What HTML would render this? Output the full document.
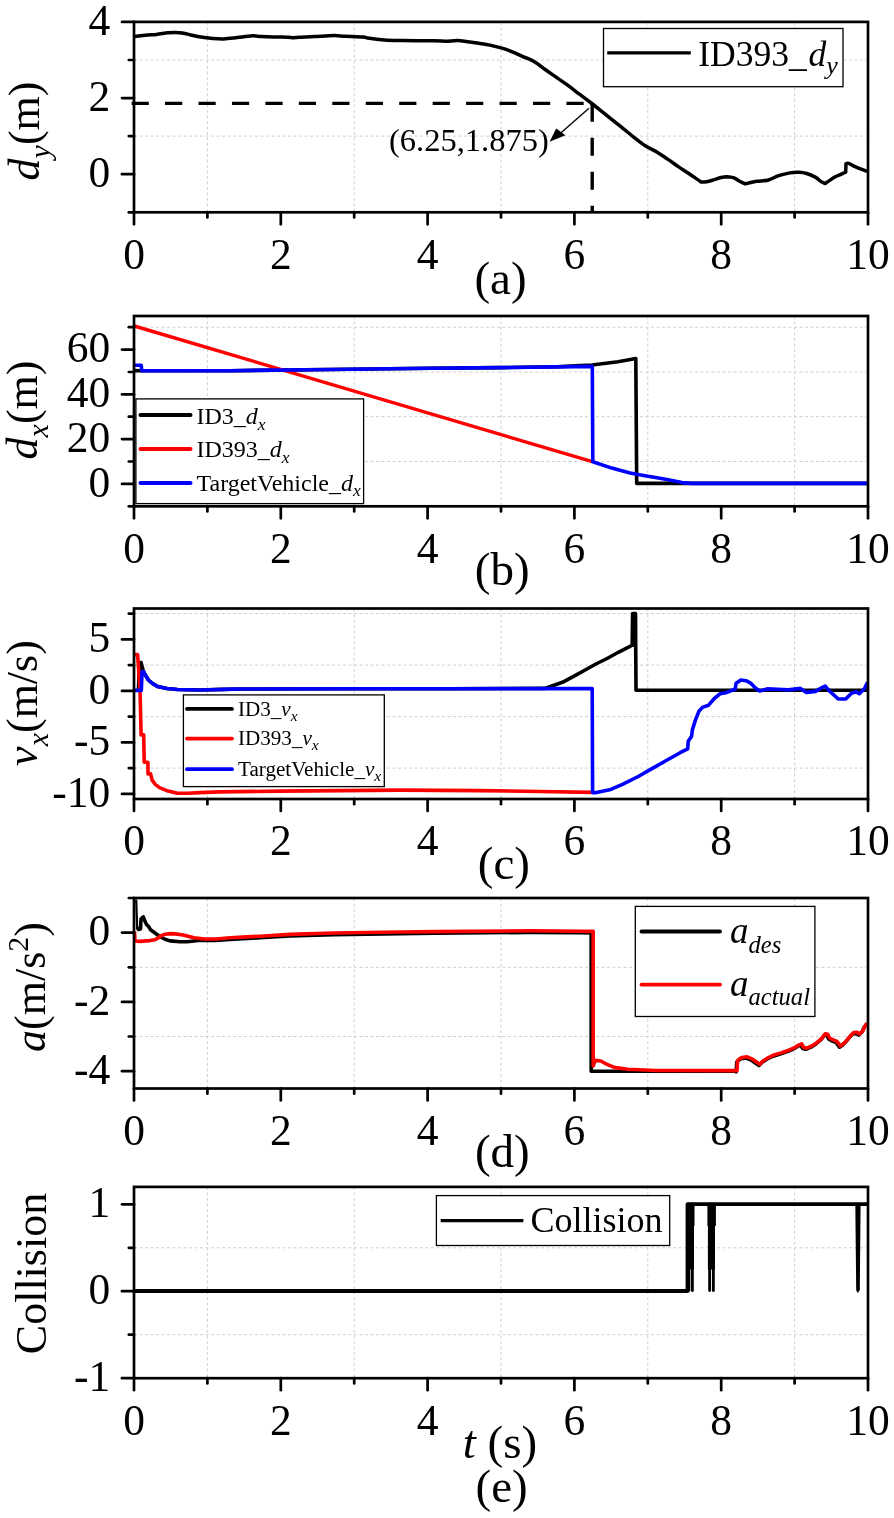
<!DOCTYPE html><html><head><meta charset="utf-8"><title>Figure</title><style>html,body{margin:0;padding:0;background:#fff;}svg{display:block;}text{font-family:'Liberation Serif','Times New Roman',serif;fill:#000;}</style></head><body>
<svg width="894" height="1518" viewBox="0 0 894 1518">
<rect width="894" height="1518" fill="#fff"/>
<line x1="207.4" y1="21.9" x2="207.4" y2="212.3" stroke="#d0d0d0" stroke-width="1" stroke-dasharray="3 2.5"/>
<line x1="354.2" y1="21.9" x2="354.2" y2="212.3" stroke="#d0d0d0" stroke-width="1" stroke-dasharray="3 2.5"/>
<line x1="501" y1="21.9" x2="501" y2="212.3" stroke="#d0d0d0" stroke-width="1" stroke-dasharray="3 2.5"/>
<line x1="647.8" y1="21.9" x2="647.8" y2="212.3" stroke="#d0d0d0" stroke-width="1" stroke-dasharray="3 2.5"/>
<line x1="794.6" y1="21.9" x2="794.6" y2="212.3" stroke="#d0d0d0" stroke-width="1" stroke-dasharray="3 2.5"/>
<line x1="134" y1="60" x2="868" y2="60" stroke="#d0d0d0" stroke-width="1" stroke-dasharray="3 2.5"/>
<line x1="134" y1="136.1" x2="868" y2="136.1" stroke="#d0d0d0" stroke-width="1" stroke-dasharray="3 2.5"/>
<line x1="131.6" y1="103.4" x2="592.4" y2="103.4" stroke="#000" stroke-width="3.4" stroke-dasharray="17.2 16.25"/>
<line x1="592.2" y1="103.8" x2="592.2" y2="212" stroke="#000" stroke-width="3.4" stroke-dasharray="18 16"/>
<path d="M134.5 36.6 C134.5 36.6 141.5 35.7 145.2 35.3 C148.8 34.9 153.6 34.7 156.4 34.4 C159.2 34.1 160.1 33.9 162 33.6 C163.9 33.3 165.4 32.9 167.6 32.7 C169.8 32.5 173 32.4 175.4 32.4 C177.8 32.4 179.7 32.5 182.1 32.9 C184.5 33.3 187.5 34.1 189.9 34.7 C192.3 35.3 194.2 35.8 196.6 36.3 C199 36.8 201.9 37.2 204.5 37.6 C207.1 38 209.1 38.3 212.3 38.5 C215.5 38.7 219.9 39 223.5 38.9 C227.1 38.8 230.4 38.4 234 38 C237.6 37.6 242 37 245.2 36.6 C248.4 36.2 250.2 35.8 253 35.8 C255.8 35.8 258.3 36.4 262 36.6 C265.7 36.8 270.7 36.9 275 37 C279.3 37.1 284.6 37.1 287.7 37.2 C290.8 37.3 291.4 37.7 293.3 37.7 C295.2 37.7 295.4 37.4 298.9 37.2 C302.4 37 308.6 36.9 314.5 36.6 C320.4 36.3 328.9 35.7 334 35.6 C339.1 35.5 340.3 36.1 345.2 36.3 C350.1 36.5 359.4 36.7 363.1 37 C366.8 37.3 364.1 37.6 367.6 38.1 C371.1 38.6 378.7 39.6 384.3 40 C389.9 40.4 392.8 40.4 401.1 40.5 C409.4 40.6 426.6 40.7 434 40.8 C441.4 40.9 441.3 41.2 445.2 41.2 C449.1 41.2 453.8 40.5 457.5 40.6 C461.2 40.7 464.1 41.3 467.6 41.7 C471.1 42.1 475 42.6 478.7 43.2 C482.4 43.8 486.2 44.3 489.9 45.1 C493.6 45.9 497.4 46.8 501.1 47.9 C504.8 49 508.6 50.3 512.3 51.8 C516 53.3 519.9 55.2 523.5 56.8 C527.1 58.4 530.4 59.4 534 61.5 C537.6 63.6 541.5 66.8 545.2 69.5 C548.9 72.2 552.7 74.8 556.4 77.4 C560.1 80 563.9 82.5 567.6 85.2 C571.3 87.9 575 90.8 578.7 93.6 C582.4 96.4 586.2 99.1 589.9 102 C593.6 104.9 597.4 107.9 601.1 110.9 C604.8 113.9 608.6 116.9 612.3 119.9 C616 122.9 619.9 125.9 623.5 128.8 C627.1 131.7 630.4 134.5 634 137.3 C637.6 140.1 641.5 143.3 645.2 145.7 C648.9 148.1 652.7 149.6 656.4 151.8 C660.1 154 663.9 156.6 667.6 159.1 C671.3 161.6 675 164.4 678.7 166.9 C682.4 169.4 687.1 172.3 689.9 174.2 C692.7 176.1 693.6 176.8 695.5 178.1 C697.4 179.4 701.1 182 701.1 182 C701.1 182 704.8 182 706.7 181.7 C708.6 181.4 709.9 181 712.3 180.3 C714.7 179.6 718.8 178.1 721.2 177.5 C723.6 176.9 724.7 176.8 726.8 176.8 C728.9 176.9 731.9 177.1 734 177.8 C736.1 178.6 737.7 180.3 739.6 181.3 C741.5 182.3 745.2 183.9 745.2 183.9 C745.2 183.9 752.7 181.9 756.4 181.3 C760.1 180.7 763.9 181.1 767.6 180.2 C771.3 179.3 775 176.9 778.7 175.7 C782.4 174.5 786.5 173.5 789.9 172.9 C793.3 172.3 796.1 172.2 798.9 172.3 C801.7 172.4 803.9 172.7 806.7 173.5 C809.5 174.3 813.3 176.1 815.7 177.4 C818.1 178.7 819.4 180.5 821 181.5 C822.6 182.5 825.2 183.6 825.2 183.6 C825.2 183.6 827.7 181.7 829.4 180.6 C831.1 179.5 833.1 177.9 835.2 176.8 C837.3 175.7 840.1 174.7 841.9 173.9 C843.6 173.1 845.7 172.2 845.7 172.2 C845.7 172.2 846 163.8 846 163.8 C846 163.8 847.3 163 848.7 163.4 C850.1 163.8 852.5 165.5 854.5 166.4 C856.5 167.3 858.3 168.1 860.4 168.9 C862.5 169.7 867.1 171.4 867.1 171.4" fill="none" stroke="#000" stroke-width="3.5" stroke-linejoin="round" stroke-linecap="butt"/>
<line x1="589" y1="108.3" x2="559" y2="134.5" stroke="#000" stroke-width="1.4"/>
<polygon points="549.6,141.8 556.2,128.6 565.4,135.2" fill="#000"/>
<text x="389" y="151.1" font-size="32.5">(6.25,1.875)</text>
<rect x="134" y="21.9" width="734" height="190.4" fill="none" stroke="#000" stroke-width="2.7"/>
<line x1="134" y1="212.3" x2="134" y2="224.3" stroke="#000" stroke-width="2.7" stroke-linecap="round"/>
<line x1="207.4" y1="212.3" x2="207.4" y2="217.5" stroke="#000" stroke-width="2.7" stroke-linecap="round"/>
<line x1="280.8" y1="212.3" x2="280.8" y2="224.3" stroke="#000" stroke-width="2.7" stroke-linecap="round"/>
<line x1="354.2" y1="212.3" x2="354.2" y2="217.5" stroke="#000" stroke-width="2.7" stroke-linecap="round"/>
<line x1="427.6" y1="212.3" x2="427.6" y2="224.3" stroke="#000" stroke-width="2.7" stroke-linecap="round"/>
<line x1="501" y1="212.3" x2="501" y2="217.5" stroke="#000" stroke-width="2.7" stroke-linecap="round"/>
<line x1="574.4" y1="212.3" x2="574.4" y2="224.3" stroke="#000" stroke-width="2.7" stroke-linecap="round"/>
<line x1="647.8" y1="212.3" x2="647.8" y2="217.5" stroke="#000" stroke-width="2.7" stroke-linecap="round"/>
<line x1="721.2" y1="212.3" x2="721.2" y2="224.3" stroke="#000" stroke-width="2.7" stroke-linecap="round"/>
<line x1="794.6" y1="212.3" x2="794.6" y2="217.5" stroke="#000" stroke-width="2.7" stroke-linecap="round"/>
<line x1="868" y1="212.3" x2="868" y2="224.3" stroke="#000" stroke-width="2.7" stroke-linecap="round"/>
<line x1="122" y1="21.9" x2="134" y2="21.9" stroke="#000" stroke-width="2.7" stroke-linecap="round"/>
<line x1="122" y1="98.1" x2="134" y2="98.1" stroke="#000" stroke-width="2.7" stroke-linecap="round"/>
<line x1="122" y1="174.2" x2="134" y2="174.2" stroke="#000" stroke-width="2.7" stroke-linecap="round"/>
<line x1="128.8" y1="60" x2="134" y2="60" stroke="#000" stroke-width="2.7" stroke-linecap="round"/>
<line x1="128.8" y1="136.1" x2="134" y2="136.1" stroke="#000" stroke-width="2.7" stroke-linecap="round"/>
<line x1="128.8" y1="212.3" x2="134" y2="212.3" stroke="#000" stroke-width="2.7" stroke-linecap="round"/>
<text x="134" y="269.2" text-anchor="middle" font-size="43.5">0</text>
<text x="280.8" y="269.2" text-anchor="middle" font-size="43.5">2</text>
<text x="427.6" y="269.2" text-anchor="middle" font-size="43.5">4</text>
<text x="574.4" y="269.2" text-anchor="middle" font-size="43.5">6</text>
<text x="721.2" y="269.2" text-anchor="middle" font-size="43.5">8</text>
<text x="868" y="269.2" text-anchor="middle" font-size="43.5">10</text>
<text x="110.3" y="34.7" text-anchor="end" font-size="43.5">4</text>
<text x="110.3" y="110.9" text-anchor="end" font-size="43.5">2</text>
<text x="110.3" y="187" text-anchor="end" font-size="43.5">0</text>
<rect x="603.5" y="28.5" width="239.5" height="58.2" fill="#fff" stroke="#000" stroke-width="1.3"/>
<line x1="607.2" y1="52.9" x2="690.8" y2="52.9" stroke="#000" stroke-width="3.2"/>
<text x="698.3" y="66" font-size="35.5">ID393_<tspan font-style="italic" dx="1.8">d</tspan><tspan font-style="italic" font-size="26" dy="8">y</tspan></text>
<text x="500.5" y="293.6" text-anchor="middle" font-size="47">(a)</text>
<line x1="207.4" y1="316" x2="207.4" y2="506.3" stroke="#d0d0d0" stroke-width="1" stroke-dasharray="3 2.5"/>
<line x1="354.2" y1="316" x2="354.2" y2="506.3" stroke="#d0d0d0" stroke-width="1" stroke-dasharray="3 2.5"/>
<line x1="501" y1="316" x2="501" y2="506.3" stroke="#d0d0d0" stroke-width="1" stroke-dasharray="3 2.5"/>
<line x1="647.8" y1="316" x2="647.8" y2="506.3" stroke="#d0d0d0" stroke-width="1" stroke-dasharray="3 2.5"/>
<line x1="794.6" y1="316" x2="794.6" y2="506.3" stroke="#d0d0d0" stroke-width="1" stroke-dasharray="3 2.5"/>
<line x1="134" y1="327.2" x2="868" y2="327.2" stroke="#d0d0d0" stroke-width="1" stroke-dasharray="3 2.5"/>
<line x1="134" y1="372" x2="868" y2="372" stroke="#d0d0d0" stroke-width="1" stroke-dasharray="3 2.5"/>
<line x1="134" y1="416.7" x2="868" y2="416.7" stroke="#d0d0d0" stroke-width="1" stroke-dasharray="3 2.5"/>
<line x1="134" y1="461.5" x2="868" y2="461.5" stroke="#d0d0d0" stroke-width="1" stroke-dasharray="3 2.5"/>
<path d="M134.2 370.6 L141.7 370.7 L230 370.7 L330 369.5 L430 368.3 L500 367.6 L557 366.8 L575 365.9 L592 365 L618 361.7 L634.6 358.8 L635.8 358.6 L636.7 483.4 L868 483.4" fill="none" stroke="#000" stroke-width="3.6" stroke-linejoin="round" stroke-linecap="butt"/>
<path d="M134.2 326 L592.4 461.7" fill="none" stroke="#f00" stroke-width="3.4" stroke-linejoin="round" stroke-linecap="butt"/>
<path d="M134.2 365.3 L141.2 365.3 L141.8 370.7 L230 370.7 L330 369.5 L430 368.3 L500 367.6 L557 366.9 L592.3 366.4 L592.8 461.8 L611.8 468.1 L630 473.1 L645 475.8 L660 478.2 L672 480.6 L682 482.6 L692 483.4 L868 483.4" fill="none" stroke="#00f" stroke-width="3.6" stroke-linejoin="round" stroke-linecap="butt"/>
<rect x="134" y="316" width="734" height="190.3" fill="none" stroke="#000" stroke-width="2.7"/>
<line x1="134" y1="506.3" x2="134" y2="518.3" stroke="#000" stroke-width="2.7" stroke-linecap="round"/>
<line x1="207.4" y1="506.3" x2="207.4" y2="511.5" stroke="#000" stroke-width="2.7" stroke-linecap="round"/>
<line x1="280.8" y1="506.3" x2="280.8" y2="518.3" stroke="#000" stroke-width="2.7" stroke-linecap="round"/>
<line x1="354.2" y1="506.3" x2="354.2" y2="511.5" stroke="#000" stroke-width="2.7" stroke-linecap="round"/>
<line x1="427.6" y1="506.3" x2="427.6" y2="518.3" stroke="#000" stroke-width="2.7" stroke-linecap="round"/>
<line x1="501" y1="506.3" x2="501" y2="511.5" stroke="#000" stroke-width="2.7" stroke-linecap="round"/>
<line x1="574.4" y1="506.3" x2="574.4" y2="518.3" stroke="#000" stroke-width="2.7" stroke-linecap="round"/>
<line x1="647.8" y1="506.3" x2="647.8" y2="511.5" stroke="#000" stroke-width="2.7" stroke-linecap="round"/>
<line x1="721.2" y1="506.3" x2="721.2" y2="518.3" stroke="#000" stroke-width="2.7" stroke-linecap="round"/>
<line x1="794.6" y1="506.3" x2="794.6" y2="511.5" stroke="#000" stroke-width="2.7" stroke-linecap="round"/>
<line x1="868" y1="506.3" x2="868" y2="518.3" stroke="#000" stroke-width="2.7" stroke-linecap="round"/>
<line x1="122" y1="349.6" x2="134" y2="349.6" stroke="#000" stroke-width="2.7" stroke-linecap="round"/>
<line x1="122" y1="394.4" x2="134" y2="394.4" stroke="#000" stroke-width="2.7" stroke-linecap="round"/>
<line x1="122" y1="439.1" x2="134" y2="439.1" stroke="#000" stroke-width="2.7" stroke-linecap="round"/>
<line x1="122" y1="483.9" x2="134" y2="483.9" stroke="#000" stroke-width="2.7" stroke-linecap="round"/>
<line x1="128.8" y1="327.2" x2="134" y2="327.2" stroke="#000" stroke-width="2.7" stroke-linecap="round"/>
<line x1="128.8" y1="372" x2="134" y2="372" stroke="#000" stroke-width="2.7" stroke-linecap="round"/>
<line x1="128.8" y1="416.7" x2="134" y2="416.7" stroke="#000" stroke-width="2.7" stroke-linecap="round"/>
<line x1="128.8" y1="461.5" x2="134" y2="461.5" stroke="#000" stroke-width="2.7" stroke-linecap="round"/>
<line x1="128.8" y1="506.3" x2="134" y2="506.3" stroke="#000" stroke-width="2.7" stroke-linecap="round"/>
<text x="134" y="562.8" text-anchor="middle" font-size="43.5">0</text>
<text x="280.8" y="562.8" text-anchor="middle" font-size="43.5">2</text>
<text x="427.6" y="562.8" text-anchor="middle" font-size="43.5">4</text>
<text x="574.4" y="562.8" text-anchor="middle" font-size="43.5">6</text>
<text x="721.2" y="562.8" text-anchor="middle" font-size="43.5">8</text>
<text x="868" y="562.8" text-anchor="middle" font-size="43.5">10</text>
<text x="110.3" y="362.4" text-anchor="end" font-size="43.5">60</text>
<text x="110.3" y="407.2" text-anchor="end" font-size="43.5">40</text>
<text x="110.3" y="451.9" text-anchor="end" font-size="43.5">20</text>
<text x="110.3" y="496.7" text-anchor="end" font-size="43.5">0</text>
<rect x="135.9" y="398.9" width="227.7" height="104.7" fill="#fff" stroke="#000" stroke-width="1.3"/>
<line x1="140.5" y1="415.1" x2="190.5" y2="415.1" stroke="#000" stroke-width="4" stroke-linecap="round"/>
<line x1="140.5" y1="448.9" x2="190.5" y2="448.9" stroke="#f00" stroke-width="4" stroke-linecap="round"/>
<line x1="140.5" y1="483.0" x2="190.5" y2="483.0" stroke="#00f" stroke-width="4" stroke-linecap="round"/>
<text x="196.5" y="424.0" font-size="24">ID3_<tspan font-style="italic">d</tspan><tspan font-style="italic" font-size="17.5" dy="5.5">x</tspan></text>
<text x="196.5" y="457.2" font-size="24">ID393_<tspan font-style="italic">d</tspan><tspan font-style="italic" font-size="17.5" dy="5.5">x</tspan></text>
<text x="196.5" y="490.8" font-size="24">TargetVehicle_<tspan font-style="italic">d</tspan><tspan font-style="italic" font-size="17.5" dy="5.5">x</tspan></text>
<text x="502.2" y="585.3" text-anchor="middle" font-size="47">(b)</text>
<line x1="207.4" y1="608.5" x2="207.4" y2="799" stroke="#d0d0d0" stroke-width="1" stroke-dasharray="3 2.5"/>
<line x1="354.2" y1="608.5" x2="354.2" y2="799" stroke="#d0d0d0" stroke-width="1" stroke-dasharray="3 2.5"/>
<line x1="501" y1="608.5" x2="501" y2="799" stroke="#d0d0d0" stroke-width="1" stroke-dasharray="3 2.5"/>
<line x1="647.8" y1="608.5" x2="647.8" y2="799" stroke="#d0d0d0" stroke-width="1" stroke-dasharray="3 2.5"/>
<line x1="794.6" y1="608.5" x2="794.6" y2="799" stroke="#d0d0d0" stroke-width="1" stroke-dasharray="3 2.5"/>
<line x1="134" y1="613.6" x2="868" y2="613.6" stroke="#d0d0d0" stroke-width="1" stroke-dasharray="3 2.5"/>
<line x1="134" y1="665.1" x2="868" y2="665.1" stroke="#d0d0d0" stroke-width="1" stroke-dasharray="3 2.5"/>
<line x1="134" y1="716.6" x2="868" y2="716.6" stroke="#d0d0d0" stroke-width="1" stroke-dasharray="3 2.5"/>
<line x1="134" y1="768.1" x2="868" y2="768.1" stroke="#d0d0d0" stroke-width="1" stroke-dasharray="3 2.5"/>
<rect x="631.8" y="613" width="4.2" height="34" fill="#000"/>
<path d="M138.5 690.4 L139.3 663 L141 662.5 L142.5 668 L143.5 672 L145.8 675.8 L148.4 680 L152.1 683.2 L157.4 686.4 L166.9 688.5 L177.4 689.5 L200 690 L224 689.4 L239.3 689 L350 688.8 L450 688.7 L545 688.4 L551.2 686.2 L562.4 682.3 L573.6 676.4 L584.7 670.2 L595.9 664 L607.1 658.5 L618.3 652.3 L629.5 646.7 L632.2 645 L632.6 613.6 L635.5 613.6 L636 690.2 L868.3 690.2" fill="none" stroke="#000" stroke-width="3.6" stroke-linejoin="round" stroke-linecap="butt"/>
<path d="M134.6 654.6 L137.6 654.6 L140 690 L141.1 734.9 L143.7 734.9 L144.2 762.3 L147.9 762.3 L148 773.9 L150.6 773.9 L152.1 780.2 L155.3 784.4 L159.5 787.6 L166.9 790.7 L177.4 793.2 L188 793.2 L200 792.6 L220 791.9 L280 791.1 L340 790.6 L400 790.1 L480 790.6 L540 791.5 L592.4 792.4" fill="none" stroke="#f00" stroke-width="3.6" stroke-linejoin="round" stroke-linecap="butt"/>
<path d="M134.2 690.4 L141.3 690.4 L142.1 671.6 L143.6 671.6 L145.8 675.8 L148.4 680 L152.1 683.2 L157.4 686.4 L166.9 688.5 L177.4 689.5 L200 690 L224 689.4 L239.3 689 L350 688.8 L450 688.7 L592.2 688.6 L592.6 792.6 L596.4 792.6 L609.7 789.8 L623 784.1 L638.2 776.5 L651.5 768.9 L666.7 760.3 L680.1 752.7 L687.7 748.9 L688.2 741.3 L691.5 736.5 L692.4 729.9 L695.3 720.4 L699.1 710.9 L702.9 707.1 L708.6 705.2 L714.3 698.5 L720 693.8 L725.7 692.8 L735.2 689 L736.1 683.3 L740.9 680 L746 680.7 L750.6 683.1 L755.1 687.7 L759.6 691 L767.2 688.9 L777.8 689.2 L788.3 689.9 L800.4 688.4 L806.5 692.5 L815.5 691.4 L821.6 687.7 L825.3 686.1 L829.1 690.7 L838.2 699 L845.7 699 L851.8 692.9 L856.3 691.9 L859.3 693.7 L864.6 688.4 L867.6 682.4" fill="none" stroke="#00f" stroke-width="3.6" stroke-linejoin="round" stroke-linecap="butt"/>
<rect x="134" y="608.5" width="734" height="190.5" fill="none" stroke="#000" stroke-width="2.7"/>
<line x1="134" y1="799" x2="134" y2="811" stroke="#000" stroke-width="2.7" stroke-linecap="round"/>
<line x1="207.4" y1="799" x2="207.4" y2="804.2" stroke="#000" stroke-width="2.7" stroke-linecap="round"/>
<line x1="280.8" y1="799" x2="280.8" y2="811" stroke="#000" stroke-width="2.7" stroke-linecap="round"/>
<line x1="354.2" y1="799" x2="354.2" y2="804.2" stroke="#000" stroke-width="2.7" stroke-linecap="round"/>
<line x1="427.6" y1="799" x2="427.6" y2="811" stroke="#000" stroke-width="2.7" stroke-linecap="round"/>
<line x1="501" y1="799" x2="501" y2="804.2" stroke="#000" stroke-width="2.7" stroke-linecap="round"/>
<line x1="574.4" y1="799" x2="574.4" y2="811" stroke="#000" stroke-width="2.7" stroke-linecap="round"/>
<line x1="647.8" y1="799" x2="647.8" y2="804.2" stroke="#000" stroke-width="2.7" stroke-linecap="round"/>
<line x1="721.2" y1="799" x2="721.2" y2="811" stroke="#000" stroke-width="2.7" stroke-linecap="round"/>
<line x1="794.6" y1="799" x2="794.6" y2="804.2" stroke="#000" stroke-width="2.7" stroke-linecap="round"/>
<line x1="868" y1="799" x2="868" y2="811" stroke="#000" stroke-width="2.7" stroke-linecap="round"/>
<line x1="122" y1="639.4" x2="134" y2="639.4" stroke="#000" stroke-width="2.7" stroke-linecap="round"/>
<line x1="122" y1="690.9" x2="134" y2="690.9" stroke="#000" stroke-width="2.7" stroke-linecap="round"/>
<line x1="122" y1="742.4" x2="134" y2="742.4" stroke="#000" stroke-width="2.7" stroke-linecap="round"/>
<line x1="122" y1="793.9" x2="134" y2="793.9" stroke="#000" stroke-width="2.7" stroke-linecap="round"/>
<line x1="128.8" y1="613.6" x2="134" y2="613.6" stroke="#000" stroke-width="2.7" stroke-linecap="round"/>
<line x1="128.8" y1="665.1" x2="134" y2="665.1" stroke="#000" stroke-width="2.7" stroke-linecap="round"/>
<line x1="128.8" y1="716.6" x2="134" y2="716.6" stroke="#000" stroke-width="2.7" stroke-linecap="round"/>
<line x1="128.8" y1="768.1" x2="134" y2="768.1" stroke="#000" stroke-width="2.7" stroke-linecap="round"/>
<text x="134" y="854.5" text-anchor="middle" font-size="43.5">0</text>
<text x="280.8" y="854.5" text-anchor="middle" font-size="43.5">2</text>
<text x="427.6" y="854.5" text-anchor="middle" font-size="43.5">4</text>
<text x="574.4" y="854.5" text-anchor="middle" font-size="43.5">6</text>
<text x="721.2" y="854.5" text-anchor="middle" font-size="43.5">8</text>
<text x="868" y="854.5" text-anchor="middle" font-size="43.5">10</text>
<text x="110.3" y="652.2" text-anchor="end" font-size="43.5">5</text>
<text x="110.3" y="703.7" text-anchor="end" font-size="43.5">0</text>
<text x="110.3" y="755.2" text-anchor="end" font-size="43.5">-5</text>
<text x="110.3" y="806.7" text-anchor="end" font-size="43.5">-10</text>
<rect x="183.4" y="694.9" width="200.9" height="91.7" fill="#fff" stroke="#000" stroke-width="1.3"/>
<line x1="187" y1="708.9" x2="232" y2="708.9" stroke="#000" stroke-width="3.8" stroke-linecap="round"/>
<line x1="187" y1="738.6" x2="232" y2="738.6" stroke="#f00" stroke-width="3.8" stroke-linecap="round"/>
<line x1="187" y1="769.2" x2="232" y2="769.2" stroke="#00f" stroke-width="3.8" stroke-linecap="round"/>
<text x="238" y="715.8" font-size="21.1">ID3_<tspan font-style="italic">v</tspan><tspan font-style="italic" font-size="15.5" dy="5">x</tspan></text>
<text x="238" y="745.3" font-size="21.1">ID393_<tspan font-style="italic">v</tspan><tspan font-style="italic" font-size="15.5" dy="5">x</tspan></text>
<text x="238" y="776.0" font-size="21.1">TargetVehicle_<tspan font-style="italic">v</tspan><tspan font-style="italic" font-size="15.5" dy="5">x</tspan></text>
<text x="503.9" y="879.3" text-anchor="middle" font-size="47">(c)</text>
<line x1="207.4" y1="898" x2="207.4" y2="1088.5" stroke="#d0d0d0" stroke-width="1" stroke-dasharray="3 2.5"/>
<line x1="354.2" y1="898" x2="354.2" y2="1088.5" stroke="#d0d0d0" stroke-width="1" stroke-dasharray="3 2.5"/>
<line x1="501" y1="898" x2="501" y2="1088.5" stroke="#d0d0d0" stroke-width="1" stroke-dasharray="3 2.5"/>
<line x1="647.8" y1="898" x2="647.8" y2="1088.5" stroke="#d0d0d0" stroke-width="1" stroke-dasharray="3 2.5"/>
<line x1="794.6" y1="898" x2="794.6" y2="1088.5" stroke="#d0d0d0" stroke-width="1" stroke-dasharray="3 2.5"/>
<line x1="134" y1="967.3" x2="868" y2="967.3" stroke="#d0d0d0" stroke-width="1" stroke-dasharray="3 2.5"/>
<line x1="134" y1="1036.5" x2="868" y2="1036.5" stroke="#d0d0d0" stroke-width="1" stroke-dasharray="3 2.5"/>
<line x1="136.2" y1="899.5" x2="137.2" y2="929" stroke="#000" stroke-width="2.2"/>
<path d="M137.3 927.5 L138.5 929.5 L140.5 929 L141 919 L143.3 916.8 L145 921.3 L146.5 924.6 L148.5 926.3 L150.5 929.7 L155 933 L160 936.7 L165 939.2 L170 940.9 L180 941.7 L187.2 941.7 L200.7 940.3 L215 940.5 L230 939.4 L260 937.8 L290 936 L334 934.6 L400 933.6 L435 933.2 L530 932.4 L580 932.8 L591.2 933 L591.2 1071.3 L736 1071.3 L736.2 1071.8 L736.7 1062.3 L737.8 1060.8 L740.9 1058.8 L746.4 1058 L751.1 1060 L755 1062.7 L759 1065.5 L762.1 1062.3 L766.8 1059.2 L772.3 1056.5 L780.1 1054.1 L787.9 1051.4 L793.4 1049 L797.6 1046.4 L800.9 1045.1 L802.6 1048.5 L805.9 1049.3 L811 1047.2 L816 1043.9 L821 1039.7 L824.4 1035.1 L826.9 1035.5 L828.6 1038.9 L832 1040.9 L836.2 1042.6 L839.5 1047.2 L842.9 1044.7 L846.2 1041.4 L849.6 1037.2 L852.9 1033.8 L856.3 1033.4 L858.8 1035.1 L862.2 1031.7 L863.8 1027.9 L865.5 1025.4 L866.5 1024.6" fill="none" stroke="#000" stroke-width="3.6" stroke-linejoin="round" stroke-linecap="butt"/>
<path d="M134.5 931.6 L135 941 L140 941.4 L150 940.6 L155 939.7 L158 938.1 L161 935.8 L165 934.2 L170 933.6 L175.2 933.9 L183.2 935 L194 937.7 L204.7 939 L215.7 939 L230 937.8 L260 936.2 L290 934.4 L334.2 933 L400 932 L434.9 931.6 L530 930.8 L580 931.2 L590.5 931.4 L593.2 931.4 L593.2 1066 L595.2 1060.4 L600.9 1061 L606.6 1064.2 L614.2 1067.4 L627.5 1069.3 L656 1070.5 L737 1070.6 L737.5 1061.1 L738.6 1059.6 L741.7 1057.6 L747.2 1056.8 L751.9 1058.8 L755.8 1061.5 L759.8 1064.3 L762.9 1061.1 L767.6 1058 L773.1 1055.3 L780.9 1052.9 L788.7 1050.2 L794.2 1047.8 L798.4 1045.2 L801.7 1043.9 L803.4 1047.3 L806.7 1048.1 L811.8 1046 L816.8 1042.7 L821.8 1038.5 L825.2 1033.9 L827.7 1034.3 L829.4 1037.7 L832.8 1039.7 L837 1041.4 L840.3 1046 L843.7 1043.5 L847 1040.2 L850.4 1036 L853.7 1032.6 L857.1 1032.2 L859.6 1033.9 L863 1030.5 L864.6 1026.7 L866.3 1024.2 L867.3 1023.4" fill="none" stroke="#f00" stroke-width="3.6" stroke-linejoin="round" stroke-linecap="butt"/>
<rect x="134" y="898" width="734" height="190.5" fill="none" stroke="#000" stroke-width="2.7"/>
<line x1="134" y1="1088.5" x2="134" y2="1100.5" stroke="#000" stroke-width="2.7" stroke-linecap="round"/>
<line x1="207.4" y1="1088.5" x2="207.4" y2="1093.7" stroke="#000" stroke-width="2.7" stroke-linecap="round"/>
<line x1="280.8" y1="1088.5" x2="280.8" y2="1100.5" stroke="#000" stroke-width="2.7" stroke-linecap="round"/>
<line x1="354.2" y1="1088.5" x2="354.2" y2="1093.7" stroke="#000" stroke-width="2.7" stroke-linecap="round"/>
<line x1="427.6" y1="1088.5" x2="427.6" y2="1100.5" stroke="#000" stroke-width="2.7" stroke-linecap="round"/>
<line x1="501" y1="1088.5" x2="501" y2="1093.7" stroke="#000" stroke-width="2.7" stroke-linecap="round"/>
<line x1="574.4" y1="1088.5" x2="574.4" y2="1100.5" stroke="#000" stroke-width="2.7" stroke-linecap="round"/>
<line x1="647.8" y1="1088.5" x2="647.8" y2="1093.7" stroke="#000" stroke-width="2.7" stroke-linecap="round"/>
<line x1="721.2" y1="1088.5" x2="721.2" y2="1100.5" stroke="#000" stroke-width="2.7" stroke-linecap="round"/>
<line x1="794.6" y1="1088.5" x2="794.6" y2="1093.7" stroke="#000" stroke-width="2.7" stroke-linecap="round"/>
<line x1="868" y1="1088.5" x2="868" y2="1100.5" stroke="#000" stroke-width="2.7" stroke-linecap="round"/>
<line x1="122" y1="932.6" x2="134" y2="932.6" stroke="#000" stroke-width="2.7" stroke-linecap="round"/>
<line x1="122" y1="1001.9" x2="134" y2="1001.9" stroke="#000" stroke-width="2.7" stroke-linecap="round"/>
<line x1="122" y1="1071.2" x2="134" y2="1071.2" stroke="#000" stroke-width="2.7" stroke-linecap="round"/>
<line x1="128.8" y1="898" x2="134" y2="898" stroke="#000" stroke-width="2.7" stroke-linecap="round"/>
<line x1="128.8" y1="967.3" x2="134" y2="967.3" stroke="#000" stroke-width="2.7" stroke-linecap="round"/>
<line x1="128.8" y1="1036.5" x2="134" y2="1036.5" stroke="#000" stroke-width="2.7" stroke-linecap="round"/>
<text x="134" y="1144.5" text-anchor="middle" font-size="43.5">0</text>
<text x="280.8" y="1144.5" text-anchor="middle" font-size="43.5">2</text>
<text x="427.6" y="1144.5" text-anchor="middle" font-size="43.5">4</text>
<text x="574.4" y="1144.5" text-anchor="middle" font-size="43.5">6</text>
<text x="721.2" y="1144.5" text-anchor="middle" font-size="43.5">8</text>
<text x="868" y="1144.5" text-anchor="middle" font-size="43.5">10</text>
<text x="110.3" y="945.4" text-anchor="end" font-size="43.5">0</text>
<text x="110.3" y="1014.7" text-anchor="end" font-size="43.5">-2</text>
<text x="110.3" y="1084" text-anchor="end" font-size="43.5">-4</text>
<rect x="635.3" y="906.4" width="179.6" height="110.1" fill="#fff" stroke="#000" stroke-width="1.3"/>
<line x1="641.5" y1="931.5" x2="720" y2="931.5" stroke="#000" stroke-width="3.8" stroke-linecap="round"/>
<line x1="641.5" y1="984.6" x2="720" y2="984.6" stroke="#f00" stroke-width="3.8" stroke-linecap="round"/>
<text x="730" y="943" font-size="37" font-style="italic">a<tspan font-size="24.6" dy="9.7">des</tspan></text>
<text x="730" y="995.6" font-size="37" font-style="italic">a<tspan font-size="24.6" dy="9.7">actual</tspan></text>
<text x="502.3" y="1166.9" text-anchor="middle" font-size="47">(d)</text>
<line x1="207.4" y1="1186.9" x2="207.4" y2="1378.2" stroke="#d0d0d0" stroke-width="1" stroke-dasharray="3 2.5"/>
<line x1="354.2" y1="1186.9" x2="354.2" y2="1378.2" stroke="#d0d0d0" stroke-width="1" stroke-dasharray="3 2.5"/>
<line x1="501" y1="1186.9" x2="501" y2="1378.2" stroke="#d0d0d0" stroke-width="1" stroke-dasharray="3 2.5"/>
<line x1="647.8" y1="1186.9" x2="647.8" y2="1378.2" stroke="#d0d0d0" stroke-width="1" stroke-dasharray="3 2.5"/>
<line x1="794.6" y1="1186.9" x2="794.6" y2="1378.2" stroke="#d0d0d0" stroke-width="1" stroke-dasharray="3 2.5"/>
<line x1="134" y1="1247.8" x2="868" y2="1247.8" stroke="#d0d0d0" stroke-width="1" stroke-dasharray="3 2.5"/>
<line x1="134" y1="1334.7" x2="868" y2="1334.7" stroke="#d0d0d0" stroke-width="1" stroke-dasharray="3 2.5"/>
<path d="M134 1291 L687.5 1291 L687.5 1204.2 L868 1204.2" fill="none" stroke="#000" stroke-width="3.8" stroke-linejoin="round" stroke-linecap="butt"/>
<rect x="687.3" y="1202.9" width="7.2" height="23" fill="#000"/>
<rect x="686.8" y="1225.3" width="7.2" height="44.2" fill="#000"/>
<path d="M686.5 1268.8 L690.3 1268.8 L690.3 1291 Q688.4 1293 686.5 1291 Z" fill="#000"/>
<path d="M690.9 1268.8 L693.8 1268.8 L693.8 1291 Q692.3 1293 690.9 1291 Z" fill="#000"/>
<rect x="707.4" y="1202.9" width="8.5" height="23" fill="#000"/>
<rect x="707.9" y="1225.3" width="7.1" height="44.2" fill="#000"/>
<path d="M708.2 1268.8 L711 1268.8 L711 1291 Q709.6 1293 708.2 1291 Z" fill="#000"/>
<path d="M711.9 1268.8 L714.8 1268.8 L714.8 1291 Q713.3 1293 711.9 1291 Z" fill="#000"/>
<polygon points="855.3,1203 860.6,1203 859.8,1290 858.2,1292.5 857.2,1292.5 856.2,1290" fill="#000"/>
<rect x="134" y="1186.9" width="734" height="191.3" fill="none" stroke="#000" stroke-width="2.7"/>
<line x1="134" y1="1378.2" x2="134" y2="1390.2" stroke="#000" stroke-width="2.7" stroke-linecap="round"/>
<line x1="207.4" y1="1378.2" x2="207.4" y2="1383.4" stroke="#000" stroke-width="2.7" stroke-linecap="round"/>
<line x1="280.8" y1="1378.2" x2="280.8" y2="1390.2" stroke="#000" stroke-width="2.7" stroke-linecap="round"/>
<line x1="354.2" y1="1378.2" x2="354.2" y2="1383.4" stroke="#000" stroke-width="2.7" stroke-linecap="round"/>
<line x1="427.6" y1="1378.2" x2="427.6" y2="1390.2" stroke="#000" stroke-width="2.7" stroke-linecap="round"/>
<line x1="501" y1="1378.2" x2="501" y2="1383.4" stroke="#000" stroke-width="2.7" stroke-linecap="round"/>
<line x1="574.4" y1="1378.2" x2="574.4" y2="1390.2" stroke="#000" stroke-width="2.7" stroke-linecap="round"/>
<line x1="647.8" y1="1378.2" x2="647.8" y2="1383.4" stroke="#000" stroke-width="2.7" stroke-linecap="round"/>
<line x1="721.2" y1="1378.2" x2="721.2" y2="1390.2" stroke="#000" stroke-width="2.7" stroke-linecap="round"/>
<line x1="794.6" y1="1378.2" x2="794.6" y2="1383.4" stroke="#000" stroke-width="2.7" stroke-linecap="round"/>
<line x1="868" y1="1378.2" x2="868" y2="1390.2" stroke="#000" stroke-width="2.7" stroke-linecap="round"/>
<line x1="122" y1="1204.3" x2="134" y2="1204.3" stroke="#000" stroke-width="2.7" stroke-linecap="round"/>
<line x1="122" y1="1291.2" x2="134" y2="1291.2" stroke="#000" stroke-width="2.7" stroke-linecap="round"/>
<line x1="122" y1="1378.2" x2="134" y2="1378.2" stroke="#000" stroke-width="2.7" stroke-linecap="round"/>
<line x1="128.8" y1="1247.8" x2="134" y2="1247.8" stroke="#000" stroke-width="2.7" stroke-linecap="round"/>
<line x1="128.8" y1="1334.7" x2="134" y2="1334.7" stroke="#000" stroke-width="2.7" stroke-linecap="round"/>
<text x="134" y="1434.6" text-anchor="middle" font-size="43.5">0</text>
<text x="280.8" y="1434.6" text-anchor="middle" font-size="43.5">2</text>
<text x="427.6" y="1434.6" text-anchor="middle" font-size="43.5">4</text>
<text x="574.4" y="1434.6" text-anchor="middle" font-size="43.5">6</text>
<text x="721.2" y="1434.6" text-anchor="middle" font-size="43.5">8</text>
<text x="868" y="1434.6" text-anchor="middle" font-size="43.5">10</text>
<text x="110.3" y="1217.1" text-anchor="end" font-size="43.5">1</text>
<text x="110.3" y="1304" text-anchor="end" font-size="43.5">0</text>
<text x="110.3" y="1391" text-anchor="end" font-size="43.5">-1</text>
<rect x="436.4" y="1195.6" width="233.3" height="49.9" fill="#fff" stroke="#000" stroke-width="1.3"/>
<line x1="440.7" y1="1220.7" x2="523.4" y2="1220.7" stroke="#000" stroke-width="3.2"/>
<text x="530.5" y="1232.1" font-size="36">Collision</text>
<text x="500" y="1457.5" text-anchor="middle" font-size="47"><tspan font-style="italic">t</tspan> (s)</text>
<text x="501.7" y="1501.8" text-anchor="middle" font-size="47">(e)</text>
<text transform="translate(38.9 131) rotate(-90)" text-anchor="middle" font-size="44"><tspan font-style="italic">d</tspan><tspan font-style="italic" font-size="30" dy="11">y</tspan><tspan dy="-11">(m)</tspan></text>
<text transform="translate(36.9 410) rotate(-90)" text-anchor="middle" font-size="44"><tspan font-style="italic">d</tspan><tspan font-style="italic" font-size="30" dy="11">x</tspan><tspan dy="-11">(m)</tspan></text>
<text transform="translate(37.1 703) rotate(-90)" text-anchor="middle" font-size="44"><tspan font-style="italic">v</tspan><tspan font-style="italic" font-size="30" dy="11">x</tspan><tspan dy="-11">(m/s)</tspan></text>
<text transform="translate(45 987) rotate(-90)" text-anchor="middle" font-size="44"><tspan font-style="italic">a</tspan>(m/s<tspan font-size="30" dy="-17">2</tspan><tspan dy="17">)</tspan></text>
<text transform="translate(46.1 1273.5) rotate(-90)" text-anchor="middle" font-size="44">Collision</text>
</svg></body></html>
